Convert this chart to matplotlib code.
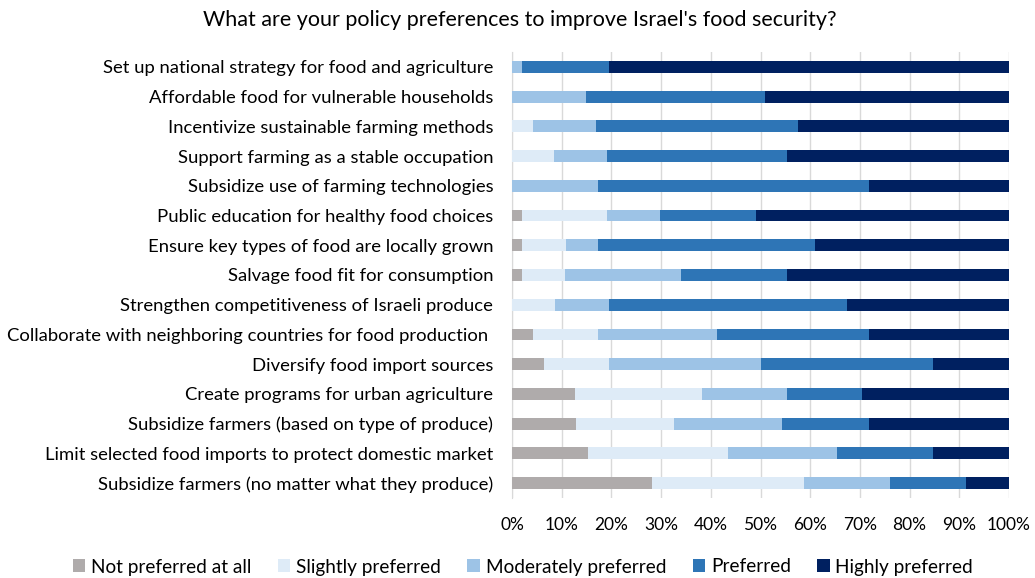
import numpy as np
import matplotlib
matplotlib.use('Agg')
import matplotlib.pyplot as plt

plt.rcParams['font.family'] = ['Lato', 'DejaVu Sans']

policies = [
    'Set up national strategy for food and agriculture',
    'Affordable food for vulnerable households',
    'Incentivize sustainable farming methods',
    'Support farming as a stable occupation',
    'Subsidize use of farming technologies',
    'Public education for healthy food choices',
    'Ensure key types of food are locally grown',
    'Salvage food fit for consumption',
    'Strengthen competitiveness of Israeli produce',
    'Collaborate with neighboring countries for food production ',
    'Diversify food import sources',
    'Create programs for urban agriculture',
    'Subsidize farmers (based on type of produce)',
    'Limit selected food imports to protect domestic market',
    'Subsidize farmers (no matter what they produce)',
]

levels = ['Not preferred at all', 'Slightly preferred', 'Moderately preferred',
          'Preferred', 'Highly preferred']
colors = ['#AFABAB', '#DEEBF7', '#9DC3E6', '#2E75B6', '#002060']

# shares in percent, one list per level, in the order of `policies`
not_preferred = [0, 0, 0, 0, 0, 2.0, 2.1, 2.0, 0, 4.2, 6.4, 12.7, 12.9, 15.2, 28.2]
slightly = [0, 0, 4.2, 8.5, 0, 17.2, 8.8, 8.6, 8.6, 13.2, 13.1, 25.6, 19.7, 28.3, 30.6]
moderately = [2.1, 14.9, 12.8, 10.7, 17.4, 10.6, 6.5, 23.4, 10.9, 23.9, 30.5, 17.0, 21.8, 21.8, 17.3]
preferred = [17.5, 36.1, 40.5, 36.2, 54.4, 19.2, 43.5, 21.4, 48.0, 30.5, 34.8, 15.1, 17.4, 19.5, 15.2]
highly = [80.4, 49.0, 42.5, 44.6, 28.2, 51.0, 39.1, 44.6, 32.5, 28.2, 15.2, 29.6, 28.2, 15.2, 8.7]

series = [not_preferred, slightly, moderately, preferred, highly]

fig = plt.figure(figsize=(10.35, 5.78), dpi=100)
ax = fig.add_axes([512 / 1035, 80 / 578, 497 / 1035, 446 / 578])

y = np.arange(len(policies))
left = np.zeros(len(policies))
for name, vals, col in zip(levels, series, colors):
    vals = np.array(vals)
    ax.barh(y, vals, left=left, height=0.4, color=col, label=name, zorder=3)
    left += vals

ax.set_ylim(len(policies) - 0.5, -0.5)
ax.set_xlim(0, 100)
ax.set_yticks(y)
ax.set_yticklabels(policies, fontsize=13.3)
ax.set_xticks(np.arange(0, 101, 10))
ax.set_xticklabels([f'{v}%' for v in range(0, 101, 10)], fontsize=12.5)
ax.tick_params(axis='y', length=0, pad=13.5)
ax.tick_params(axis='x', length=0, pad=14)
ax.grid(axis='x', color='#D9D9D9', linewidth=1, zorder=0)
for s in ['top', 'right', 'bottom']:
    ax.spines[s].set_visible(False)
ax.spines['left'].set_color('#D9D9D9')

fig.suptitle("What are your policy preferences to improve Israel's food security?",
             x=520 / 1035, y=1 - 20 / 578, va='center', fontsize=15.5)

fig.legend(loc='center', bbox_to_anchor=(523 / 1035, 1 - 567 / 578), ncol=5,
           frameon=False, fontsize=13.7, handlelength=0.65, handleheight=0.65,
           handletextpad=0.3, columnspacing=1.4)

fig.savefig('out.png', dpi=100)
